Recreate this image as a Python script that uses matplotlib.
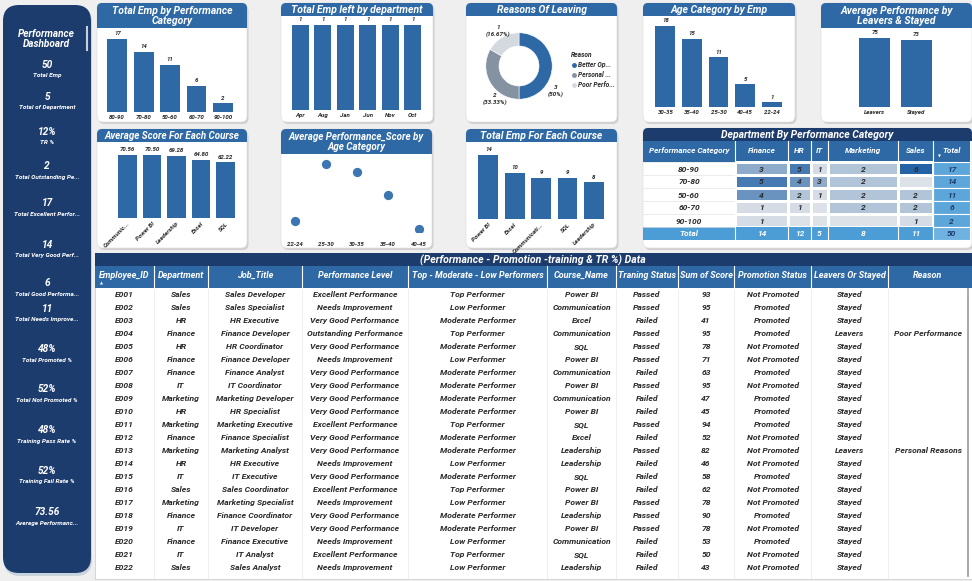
import numpy as np
import matplotlib.pyplot as plt
from matplotlib.patches import FancyBboxPatch, Rectangle
from matplotlib.colors import LinearSegmentedColormap, Normalize
from matplotlib.lines import Line2D

plt.rcParams['font.family'] = ['Roboto', 'DejaVu Sans']

# ---------------- data ----------------
perf_cats = ['80-90', '70-80', '50-60', '60-70', '90-100']
perf_counts = [17, 14, 11, 6, 2]

left_months = ['Apr', 'Aug', 'Jan', 'Jun', 'Nov', 'Oct']
left_counts = [1, 1, 1, 1, 1, 1]

reasons = ['Better Op...', 'Personal ...', 'Poor Perfo...']
reason_counts = [3, 2, 1]
reason_labels = ['3\n(50%)', '2\n(33.33%)', '1\n(16.67%)']

age_cats = ['30-35', '35-40', '25-30', '40-45', '22-24']
age_counts = [18, 15, 11, 5, 1]

status = ['Leavers', 'Stayed']
status_avg = [75, 73]

course_avg_names = ['Communic...', 'Power BI', 'Leadership', 'Excel', 'SQL']
course_avg = [70.56, 70.50, 69.28, 64.80, 62.22]

age_order = ['22-24', '25-30', '30-35', '35-40', '40-45']
age_avg_perf = [62.2, 80.5, 77.9, 70.5, 59.6]

course_cnt_names = ['Power BI', 'Excel', 'Communicati...', 'SQL', 'Leadership']
course_counts = [14, 10, 9, 9, 8]

hm_rows = ['80-90', '70-80', '50-60', '60-70', '90-100']
hm_cols = ['Finance', 'HR', 'IT', 'Marketing', 'Sales']
hm_values = [[3, 5, 1, 2, 6],
             [5, 4, 3, 2, np.nan],
             [4, 2, 1, 2, 2],
             [1, 1, np.nan, 2, 2],
             [1, np.nan, np.nan, np.nan, 1]]
hm_row_totals = [17, 14, 11, 6, 2]
hm_col_totals = [14, 12, 5, 8, 11]
hm_grand = 50

kpi_values = ['50', '5', '12%', '2', '17', '14', '6', '11', '48%', '52%', '48%', '52%', '73.56']
kpi_labels = ['Total Emp', 'Total of Department', 'TR %', 'Total Outstanding Pe...',
              'Total Excellent Perfor...', 'Total Very Good Perf...', 'Total Good Performa...',
              'Total Needs Improve...', 'Total Promoted %', 'Total Not Promoted %',
              'Training Pass Rate %', 'Training Fail Rate %', 'Average Performanc...']

emp_id = ['E%03d' % i for i in range(1, 23)]
department = ['Sales', 'Sales', 'HR', 'Finance', 'HR', 'Finance', 'Finance', 'IT', 'Marketing', 'HR',
              'Marketing', 'Finance', 'Marketing', 'HR', 'IT', 'Sales', 'Marketing', 'Finance', 'IT',
              'Finance', 'IT', 'Sales']
job_title = ['Sales Developer', 'Sales Specialist', 'HR Executive', 'Finance Developer', 'HR Coordinator',
             'Finance Developer', 'Finance Analyst', 'IT Coordinator', 'Marketing Developer', 'HR Specialist',
             'Marketing Executive', 'Finance Specialist', 'Marketing Analyst', 'HR Executive', 'IT Executive',
             'Sales Coordinator', 'Marketing Specialist', 'Finance Coordinator', 'IT Developer',
             'Finance Executive', 'IT Analyst', 'Sales Analyst']
perf_level = ['Excellent Performance', 'Needs Improvement', 'Very Good Performance', 'Outstanding Performance',
              'Very Good Performance', 'Needs Improvement', 'Very Good Performance', 'Very Good Performance',
              'Very Good Performance', 'Very Good Performance', 'Excellent Performance', 'Very Good Performance',
              'Very Good Performance', 'Needs Improvement', 'Very Good Performance', 'Excellent Performance',
              'Needs Improvement', 'Very Good Performance', 'Very Good Performance', 'Needs Improvement',
              'Excellent Performance', 'Needs Improvement']
performer = ['Top Performer', 'Low Performer', 'Moderate Performer', 'Top Performer', 'Moderate Performer',
             'Low Performer', 'Moderate Performer', 'Moderate Performer', 'Moderate Performer',
             'Moderate Performer', 'Top Performer', 'Moderate Performer', 'Moderate Performer', 'Low Performer',
             'Moderate Performer', 'Top Performer', 'Low Performer', 'Moderate Performer', 'Moderate Performer',
             'Low Performer', 'Top Performer', 'Low Performer']
course_name = ['Power BI', 'Communication', 'Excel', 'Communication', 'SQL', 'Power BI', 'Communication',
               'Power BI', 'Communication', 'Power BI', 'SQL', 'Excel', 'Leadership', 'Leadership', 'SQL',
               'Power BI', 'Power BI', 'Leadership', 'Power BI', 'Communication', 'SQL', 'Leadership']
training = ['Passed', 'Passed', 'Failed', 'Passed', 'Passed', 'Passed', 'Failed', 'Passed', 'Failed', 'Failed',
            'Passed', 'Failed', 'Passed', 'Failed', 'Failed', 'Failed', 'Passed', 'Passed', 'Passed', 'Failed',
            'Failed', 'Failed']
score = [93, 95, 41, 95, 78, 71, 63, 95, 47, 45, 94, 52, 82, 46, 58, 62, 78, 90, 78, 53, 50, 43]
promotion = ['Not Promoted', 'Promoted', 'Promoted', 'Promoted', 'Not Promoted', 'Not Promoted', 'Promoted',
             'Not Promoted', 'Promoted', 'Promoted', 'Promoted', 'Not Promoted', 'Not Promoted', 'Not Promoted',
             'Promoted', 'Not Promoted', 'Not Promoted', 'Promoted', 'Not Promoted', 'Promoted',
             'Not Promoted', 'Not Promoted']
leavers = ['Stayed', 'Stayed', 'Stayed', 'Leavers', 'Stayed', 'Stayed', 'Stayed', 'Stayed', 'Stayed', 'Stayed',
           'Stayed', 'Stayed', 'Leavers', 'Stayed', 'Stayed', 'Stayed', 'Stayed', 'Stayed', 'Stayed', 'Stayed',
           'Stayed', 'Stayed']
reason_col = ['', '', '', 'Poor Performance', '', '', '', '', '', '', '', '', 'Personal Reasons', '', '', '',
              '', '', '', '', '', '']
table_headers = ['Employee_ID', 'Department', 'Job_Title', 'Performance Level', 'Top - Moderate - Low Performers',
                 'Course_Name', 'Traning Status', 'Sum of Score', 'Promotion Status', 'Leavers Or Stayed', 'Reason']

# ---------------- style ----------------
W, H = 972, 581
BG = '#EFEFEF'
NAVY = '#1D3C6E'
BLUE = '#2E69A6'
TXT = '#2B2B2B'
FONT = dict(fontweight='bold', fontstyle='italic')

fig = plt.figure(figsize=(W / 100, H / 100), dpi=100)
fig.patch.set_facecolor(BG)
bg = fig.add_axes([0, 0, 1, 1])
bg.set_xlim(0, W)
bg.set_ylim(H, 0)
bg.axis('off')


def card(x0, y0, x1, y1, title, th, color=BLUE, fs=7.5):
    w, h = x1 - x0, y1 - y0
    bg.add_patch(FancyBboxPatch((x0 + 1.5, y0 + 2), w, h, boxstyle='round,pad=0,rounding_size=6',
                                fc='#CFCFCF', ec='none', zorder=1))
    bg.add_patch(FancyBboxPatch((x0, y0), w, h, boxstyle='round,pad=0,rounding_size=6',
                                fc='white', ec='#E0E0E0', lw=0.5, zorder=2))
    bg.add_patch(FancyBboxPatch((x0, y0), w, th, boxstyle='round,pad=0,rounding_size=5',
                                fc=color, ec='none', zorder=3))
    bg.add_patch(Rectangle((x0, y0 + th / 2), w, th / 2, fc=color, ec='none', zorder=3))
    bg.text((x0 + x1) / 2, y0 + th / 2 + 0.5, title, ha='center', va='center', color='white',
            fontsize=fs, linespacing=0.95, zorder=4, **FONT)


def chart_ax(x0, y0, x1, y1):
    ax = fig.add_axes([x0 / W, 1 - y1 / H, (x1 - x0) / W, (y1 - y0) / H])
    ax.set_facecolor('none')
    for s in ax.spines.values():
        s.set_visible(False)
    ax.set_yticks([])
    ax.tick_params(axis='x', length=0, pad=2)
    return ax


def bar_chart(box, names, vals, top, fmt='%g', rot=0):
    ax = chart_ax(*box)
    bars = ax.bar(range(len(vals)), vals, width=0.75, color=BLUE)
    ax.set_xlim(-0.5, len(vals) - 0.5)
    ax.set_ylim(0, top)
    ax.bar_label(bars, fmt=fmt, padding=2, fontsize=4.4, color=TXT, **FONT)
    ax.set_xticks(range(len(vals)))
    if rot:
        ax.set_xticklabels(names, fontsize=4.4, color=TXT, rotation=rot, ha='right',
                           rotation_mode='anchor', **FONT)
    else:
        ax.set_xticklabels(names, fontsize=4.4, color=TXT, **FONT)
    return ax


# ---------------- sidebar ----------------
bg.add_patch(FancyBboxPatch((4, 6), 88, 570, boxstyle='round,pad=0,rounding_size=16',
                            fc='#C9D3DE', ec='none', zorder=1))
bg.add_patch(FancyBboxPatch((3, 5), 88, 568, boxstyle='round,pad=0,rounding_size=16',
                            fc=NAVY, ec='none', zorder=2))
bg.plot([86.5, 86.5], [27, 50], color='#C8CFD8', lw=1.5, zorder=3)
bg.text(46, 39, 'Performance\nDashboard', ha='center', va='center', color='white', fontsize=7.2,
        linespacing=1.1, zorder=4, **FONT)
kpi_y = [65, 97, 132, 166, 203, 245, 283, 309, 349, 389, 430, 471, 512]
for v, lab, y in zip(kpi_values, kpi_labels, kpi_y):
    bg.text(47, y, v, ha='center', va='center', color='white', fontsize=7.3, zorder=4, **FONT)
    bg.text(47, y + 11, lab, ha='center', va='center', color='white', fontsize=4.6, zorder=4, **FONT)

# ---------------- top row ----------------
card(97, 3, 247, 122, 'Total Emp by Performance\nCategory', 25)
bar_chart((104, 30, 236, 112), perf_cats, perf_counts, 19.1)

card(281, 3, 433, 122, 'Total Emp left by department', 13)
bar_chart((289, 18, 424, 110), left_months, left_counts, 1.08)

card(466, 3, 617, 122, 'Reasons Of Leaving', 13)
pax = fig.add_axes([(519 - 40) / W, 1 - (66 + 40) / H, 80 / W, 80 / H])
pie_colors = ['#2E69A6', '#8592A1', '#D4D9E0']
pax.pie(reason_counts, colors=pie_colors, startangle=90, counterclock=False, radius=0.83,
        wedgeprops=dict(width=0.33, edgecolor='white', linewidth=0.4))
pax.set_xlim(-1, 1)
pax.set_ylim(-1, 1)
pax.set_aspect('equal')
pax.axis('off')
for lab, (lx, ly) in zip(reason_labels, [(0.92, -0.62), (-0.6, -0.82), (-0.52, 0.88)]):
    pax.text(lx, ly, lab, ha='center', va='center', fontsize=4.6, color=TXT, linespacing=1.3,
             clip_on=False, **FONT)
handles = [Line2D([], [], marker='o', ls='', ms=2.5, color=c) for c in pie_colors]
leg = fig.legend(handles, reasons, title='Reason', loc='upper left', bbox_to_anchor=(568 / W, 1 - 48 / H),
                 frameon=False, fontsize=4.8, title_fontsize=4.8, handletextpad=0.2, labelspacing=0.45,
                 borderpad=0, handlelength=0.8, alignment='left')
for t in leg.get_texts():
    t.set_fontweight('bold')
    t.set_fontstyle('italic')
    t.set_color(TXT)
leg.get_title().set_fontweight('bold')
leg.get_title().set_fontstyle('italic')
leg.get_title().set_color(TXT)

card(643, 3, 795, 122, 'Age Category by Emp', 13)
bar_chart((652, 18, 785, 107), age_cats, age_counts, 19.7)

card(821, 3, 972, 122, 'Average Performance by\nLeavers & Stayed', 25)
bar_chart((854, 32, 937, 107), status, status_avg, 81.5)

# ---------------- second row ----------------
card(97, 129, 247, 248, 'Average Score For Each Course', 13, fs=7)
bar_chart((115, 148, 238, 218), course_avg_names, course_avg, 78.4, fmt='%.2f', rot=45)

card(281, 129, 432, 248, 'Average Performance_Score by\nAge Category', 25, fs=7)
sax = chart_ax(279, 155, 434, 232)
sax.scatter(range(len(age_avg_perf)), age_avg_perf, s=32, color='#3B76B2', zorder=3)
sax.set_xlim(-0.5, len(age_avg_perf) - 0.5)
sax.set_ylim(58.5, 83.3)
sax.set_xticks(range(len(age_order)))
sax.set_xticklabels(age_order, fontsize=4.4, color=TXT, **FONT)
sax.tick_params(axis='x', pad=7)

card(466, 129, 617, 248, 'Total Emp For Each Course', 13)
bar_chart((475, 148, 607, 219), course_cnt_names, course_counts, 15.5, rot=45)

# ---------------- heatmap matrix ----------------
card(643, 128, 972, 248, 'Department By Performance Category', 13, color=NAVY, fs=7.5)
col_edges = [735, 788, 811, 828, 898, 933]
row_edges = [162, 175, 188, 201, 214, 227]
bg.add_patch(Rectangle((643, 141), 327, 21, fc=BLUE, ec='none', zorder=3))
for x in col_edges:
    bg.plot([x, x], [141, 240], color='white', lw=0.8, zorder=6)
hdr_x = [689] + [(a + b) / 2 for a, b in zip(col_edges[:-1], col_edges[1:])] + [951.5]
for x, lab in zip(hdr_x, ['Performance Category'] + hm_cols + ['Total']):
    bg.text(x, 150, lab, ha='center', va='center_baseline', color='white', fontsize=5.9, zorder=5, **FONT)
bg.text(939, 157, '\u25bc', ha='center', va='center', color='white', fontsize=2.8, zorder=5)
cmap = LinearSegmentedColormap.from_list('hm', ['#D5DCE5', '#2462A6'])
cmap.set_bad('#DDE2E8')
vals = np.ma.masked_invalid(np.array(hm_values, dtype=float))
bg.pcolormesh(col_edges, row_edges, vals, cmap=cmap, norm=Normalize(1, 6), edgecolor='white',
              linewidth=0.8, zorder=4)
for i, r in enumerate(hm_rows):
    yc = (row_edges[i] + row_edges[i + 1]) / 2
    bg.text(689, yc, r, ha='center', va='center_baseline', color=TXT, fontsize=6, zorder=5, **FONT)
    bg.add_patch(Rectangle((933, row_edges[i]), 37, 13, fc='#5DA6DA', ec='white', lw=0.8, zorder=4))
    bg.text(951.5, yc, str(hm_row_totals[i]), ha='center', va='center_baseline', color=NAVY, fontsize=6,
            zorder=5, **FONT)
    for j in range(len(hm_cols)):
        v = hm_values[i][j]
        if not np.isnan(v):
            xc = (col_edges[j] + col_edges[j + 1]) / 2
            bg.text(xc, yc, '%d' % v, ha='center', va='center_baseline', color=TXT, fontsize=6,
                    zorder=5, **FONT)
bg.add_patch(Rectangle((643, 227), 327, 13, fc='#4C9DD6', ec='none', zorder=4))
bg.text(689, 233.5, 'Total', ha='center', va='center_baseline', color='white', fontsize=6, zorder=5, **FONT)
for j, t in enumerate(hm_col_totals):
    xc = (col_edges[j] + col_edges[j + 1]) / 2
    bg.text(xc, 233.5, str(t), ha='center', va='center_baseline', color='white', fontsize=6, zorder=5, **FONT)
bg.add_patch(Rectangle((933, 227), 37, 13, fc='#6FB1E0', ec='white', lw=0.8, zorder=4))
bg.text(951.5, 233.5, str(hm_grand), ha='center', va='center_baseline', color=NAVY, fontsize=6,
        zorder=5, **FONT)
for y in row_edges:
    bg.plot([643, 735], [y, y], color='#E4E4E4', lw=0.5, zorder=5)

# ---------------- big table ----------------
bg.add_patch(Rectangle((95, 253), 877, 326, fc='white', ec='#D0D0D0', lw=0.6, zorder=2))
bg.add_patch(Rectangle((95, 253), 877, 13, fc=NAVY, ec='none', zorder=3))
bg.text(533, 259.5, '(Performance - Promotion -training & TR %) Data', ha='center', va='center_baseline',
        color='white', fontsize=7.6, zorder=4, **FONT)
bg.add_patch(Rectangle((95, 266), 877, 22, fc=BLUE, ec='none', zorder=3))
col_bounds = [95, 154, 208, 302, 408, 547, 616, 678, 734, 811, 888, 968]
for x in col_bounds[1:-1]:
    bg.plot([x, x], [266, 288], color='white', lw=0.8, zorder=4)
    bg.plot([x, x], [288, 578], color='#ECECEC', lw=0.6, zorder=3)
centers = [(a + b) / 2 for a, b in zip(col_bounds[:-1], col_bounds[1:])]
for x, lab in zip(centers, table_headers):
    bg.text(x, 274.5, lab, ha='center', va='center_baseline', color='white', fontsize=6.5, zorder=5, **FONT)
bg.text(101, 283.5, '\u25b2', ha='center', va='center', color='white', fontsize=2.8, zorder=5)
columns = [emp_id, department, job_title, perf_level, performer, course_name, training,
           [str(s) for s in score], promotion, leavers, reason_col]
for i in range(len(emp_id)):
    y = 294 + 13 * i
    for x, col in zip(centers, columns):
        bg.text(x, y, col[i], ha='center', va='center_baseline', color=TXT, fontsize=6.1, zorder=5, **FONT)
bg.plot([968, 968], [289, 576], color='#9A9A9A', lw=1.2, zorder=5)

fig.savefig('out.png', dpi=100, facecolor=BG)
